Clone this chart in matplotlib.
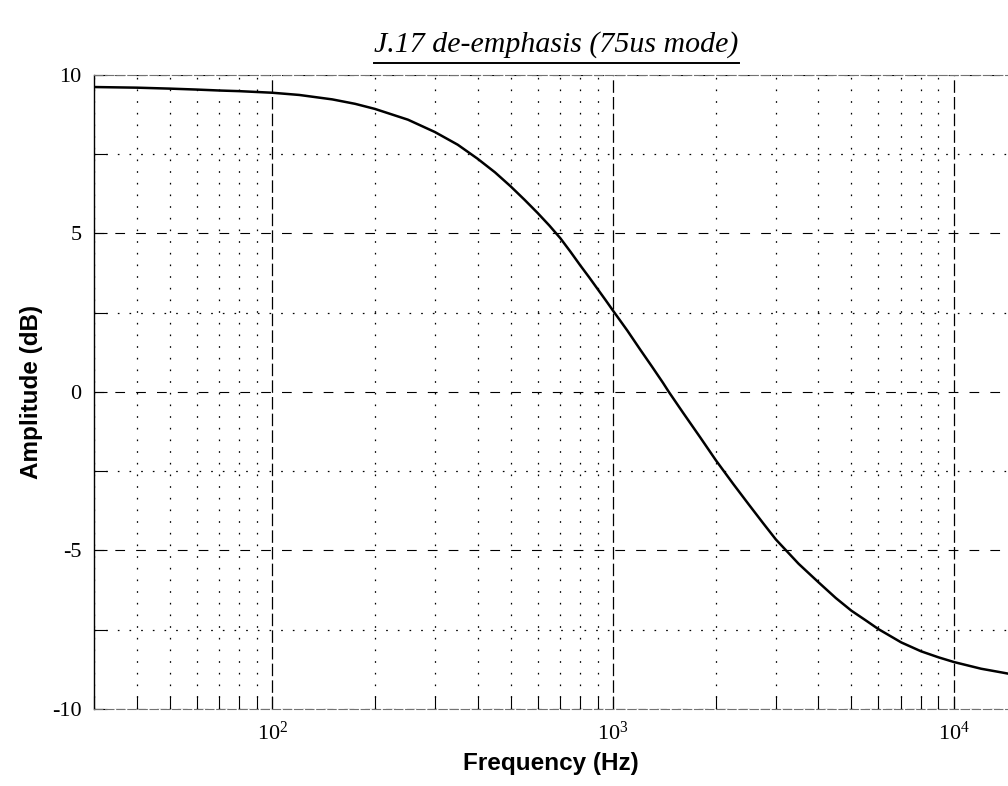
#---------------------------------Start--------------------------------

import matplotlib
matplotlib.use('Agg')
import matplotlib.pyplot as plt
from matplotlib.ticker import LogLocator, MultipleLocator, NullFormatter
from matplotlib.lines import Line2D

#-------------------------------Data-----------------

freq_hz = [30, 40, 50, 60, 70, 80, 100, 120, 150, 175, 200, 250, 300, 350,
           400, 450, 500, 550, 600, 650, 700, 750, 800, 850, 900, 950,
           1000, 1100, 1200, 1300, 1400, 1457, 1600, 1800, 2000, 2250,
           2500, 2750, 3000, 3500, 4000, 4500, 5000, 5500, 6000, 7000,
           8000, 9000, 10000, 12000, 14000, 15000]
amp_db = [9.62, 9.60, 9.57, 9.54, 9.51, 9.49, 9.44, 9.37, 9.23, 9.09,
          8.93, 8.59, 8.2, 7.8, 7.36, 6.93, 6.49, 6.06, 5.65, 5.25, 4.85,
          4.42, 4.0, 3.62, 3.25, 2.9, 2.56, 1.94, 1.34, 0.8, 0.29, 0.0,
          -0.64, -1.43, -2.15, -2.9, -3.55, -4.13, -4.65, -5.42, -6.0,
          -6.5, -6.9, -7.2, -7.48, -7.9, -8.18, -8.37, -8.52, -8.73,
          -8.86, -8.92]

title_text = 'J.17 de-emphasis (75us mode)'
x_label = 'Frequency (Hz)'
y_label = 'Amplitude (dB)'

#-------------------------------Style---------------------------------------

plt.rcParams['font.family'] = 'serif'
plt.rcParams['font.serif'] = ['Liberation Serif', 'DejaVu Serif']
plt.rcParams['mathtext.fontset'] = 'stix'
plt.rcParams['axes.unicode_minus'] = False
plt.rcParams['lines.scale_dashes'] = False

#-------------------------------Figure--------------------------------------

fig = plt.figure(figsize=(10.08, 7.86), dpi=100)
ax = fig.add_axes([0.0933, 0.098, 0.9127, 0.8066])

ax.plot(freq_hz, amp_db, color='black', lw=1.8, zorder=3)

ax.set_xscale('log')
ax.set_xlim(30, 15000)
ax.set_ylim(-10, 10)
ax.xaxis.set_major_locator(LogLocator(base=10))
ax.xaxis.set_minor_locator(LogLocator(base=10, subs=range(2, 10)))
ax.xaxis.set_minor_formatter(NullFormatter())
ax.yaxis.set_major_locator(MultipleLocator(5))
ax.yaxis.set_minor_locator(MultipleLocator(2.5))

# grid: dashed on the major lines, dotted on the minor ones
ax.grid(which='major', axis='x', color='black', lw=0.9, ls=(0, (9, 3)))
ax.grid(which='minor', axis='x', color='black', lw=0.9, ls=(0, (1.2, 7.2)))
ax.grid(which='major', axis='y', color='black', lw=0.8, ls=(0, (7, 8)))
ax.grid(which='minor', axis='y', color='black', lw=0.9, ls=(0, (1.2, 7.2)))

ax.tick_params(which='both', direction='in', length=9.5, width=0.8,
               labelsize=16, pad=9, top=False, right=False)

ax.spines['right'].set_visible(False)
for side in ['top', 'bottom']:
    ax.spines[side].set_color('0.45')
    ax.spines[side].set_linewidth(0.8)
    ax.spines[side].set_linestyle((0, (6, 2)))
ax.spines['left'].set_linewidth(1.0)

#-------------------------------Text----------------------------------------

fig.text(0.5466, 0.028, x_label, ha='center', va='center',
         family='Liberation Sans', weight='bold', fontsize=17.5)
fig.text(0.031, 0.501, y_label, ha='center', va='center', rotation=90,
         family='Liberation Sans', weight='bold', fontsize=17.5)
title = fig.text(0.552, 1 - 45 / 786, title_text, ha='center', va='center',
                 family='Liberation Serif', style='italic', fontsize=21.5)

# underline the title
fig.canvas.draw()
bb = title.get_window_extent().transformed(fig.transFigure.inverted())
y_ul = 1 - 63 / 786
fig.add_artist(Line2D([bb.x0, bb.x1], [y_ul, y_ul], color='black', lw=1.4,
                      transform=fig.transFigure))

#-------------------------------Save----------------------------------------

fig.savefig('out.png', dpi=100)
#------------------------------End---------------------------------------
